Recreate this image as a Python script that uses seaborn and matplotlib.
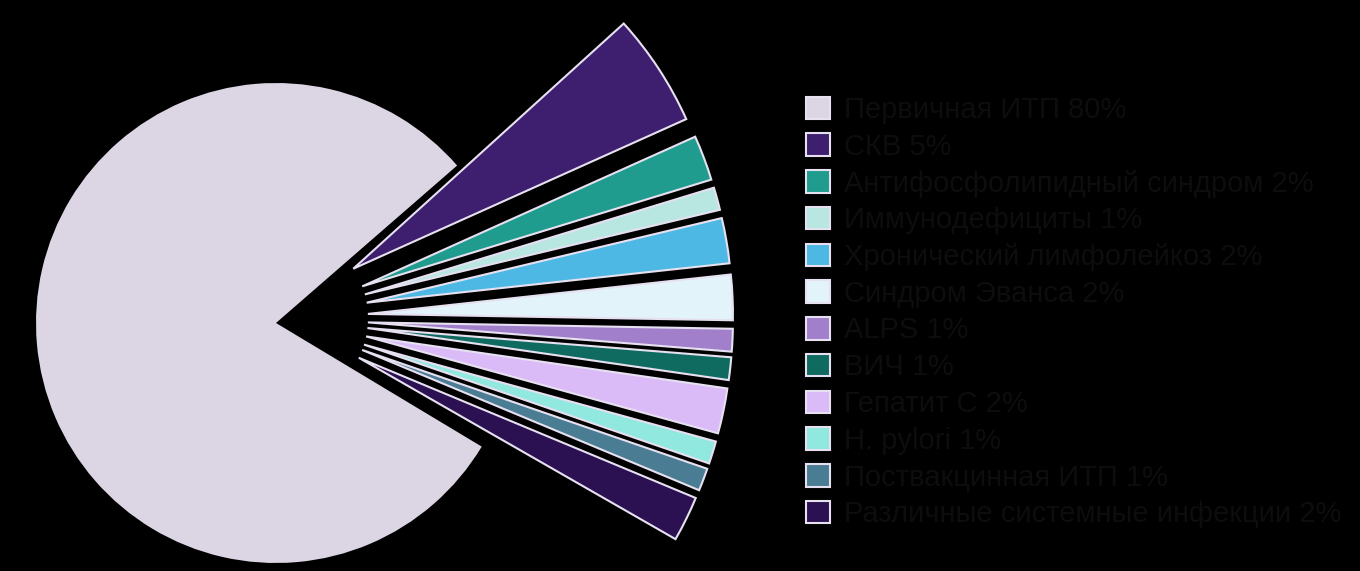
import matplotlib
matplotlib.use("Agg")
import matplotlib.pyplot as plt
import matplotlib.patches as mpatches
import seaborn as sns

# data
labels = ["Первичная ИТП 80%", "СКВ 5%", "Антифосфолипидный синдром 2%",
          "Иммунодефициты 1%", "Хронический лимфолейкоз 2%", "Синдром Эванса 2%",
          "ALPS 1%", "ВИЧ 1%", "Гепатит С 2%", "H. pylori 1%",
          "Поствакцинная ИТП 1%", "Различные системные инфекции 2%"]
shares = [80, 5, 2, 1, 2, 2, 1, 1, 2, 1, 1, 2]
colors = ["#DCD5E4", "#3E1E6E", "#1F9C8E", "#B8E6E0", "#4DB8E3", "#E3F3FA",
          "#A27FCB", "#0F6B5F", "#DBBBF7", "#90E8DE", "#4A7D94", "#2B1152"]

sns.set_theme(style="dark", rc={"axes.facecolor": "black", "figure.facecolor": "black"})
plt.rcParams["font.family"] = ["Liberation Sans", "DejaVu Sans"]

fig = plt.figure(figsize=(13.6, 5.71), dpi=100)
ax = fig.add_axes([0, 0, 1, 1])
ax.set_facecolor("black")

# pixel-like data units
cx, cy = 276, 248
r_big = 240
r_small = 365
boom = 90

# big slice only
big, _ = ax.pie(shares, colors=colors, startangle=-31, counterclock=False,
                center=(cx, cy), radius=r_big, wedgeprops=dict(linewidth=0))
for w in big[1:]:
    w.set_visible(False)

# small slices pulled out, bigger radius
small, _ = ax.pie(shares, colors=colors, startangle=-29.8, counterclock=False,
                  center=(cx + 2, cy + 5), radius=r_small,
                  explode=[0] + [boom] * (len(shares) - 1),
                  wedgeprops=dict(edgecolor="#E6E0F0", linewidth=1.5))
small[0].set_visible(False)

ax.set_xlim(0, 1360)
ax.set_ylim(0, 571)
ax.set_aspect("auto")
ax.axis("off")

handles = [mpatches.Patch(facecolor=c, edgecolor="#E6E0F0", linewidth=1.5) for c in colors]
fig.legend(handles, labels, loc="upper left", bbox_to_anchor=(806 / 1360, 1 - 96 / 571),
           frameon=False, fontsize=21, borderpad=0, borderaxespad=0,
           handlelength=0.82, handleheight=0.82, handletextpad=0.5,
           labelspacing=0.3, labelcolor="#0d0d0d")

fig.savefig("out.png", dpi=100, facecolor="black")
